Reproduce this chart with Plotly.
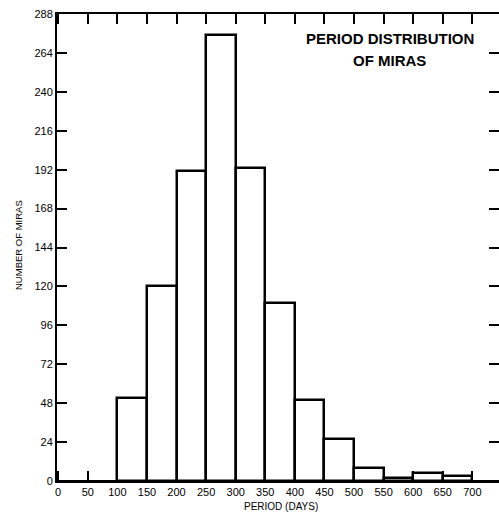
import plotly.graph_objects as go

bin_starts = [100, 150, 200, 250, 300, 350, 400, 450, 500, 550, 600, 650]
counts = [51, 120, 191, 275, 193, 110, 50, 26, 8, 2, 5, 3]
bin_width = 50
x_ticks = [0, 50, 100, 150, 200, 250, 300, 350, 400, 450, 500, 550, 600, 650, 700]
y_ticks = [0, 24, 48, 72, 96, 120, 144, 168, 192, 216, 240, 264, 288]

FONT = "Liberation Sans, Arial, sans-serif"

centers = [s + bin_width / 2 for s in bin_starts]

L, R, T, B = 57, 0, 14, 33
W, H = 499, 514
PW, PH = W - L - R, H - T - B


def px(x):
    return (x - L) / PW


def py(y):
    return (H - B - y) / PH


fig = go.Figure()
fig.add_trace(go.Bar(
    x=centers, y=counts, width=[bin_width] * len(counts),
    marker=dict(color="white", line=dict(color="black", width=2.5)),
    showlegend=False, hoverinfo="x+y",
))

fig.update_layout(
    template="none",
    width=W, height=H,
    margin=dict(l=L, r=R, t=T, b=B, autoexpand=False),
    paper_bgcolor="white", plot_bgcolor="white",
    font=dict(family=FONT, color="black", size=11),
    bargap=0,
    xaxis=dict(
        range=[-2, 745], tickvals=x_ticks, ticktext=[str(v) for v in x_ticks],
        ticks="inside", ticklen=10, tickwidth=1.5, tickcolor="black",
        showline=True, linecolor="black", linewidth=2, mirror="ticks",
        showgrid=False, zeroline=False, automargin=False,
        tickfont=dict(family=FONT, size=11, color="black"),
    ),
    yaxis=dict(
        range=[0, 288], tickvals=y_ticks, ticktext=[str(v) for v in y_ticks],
        ticks="inside", ticklen=10, tickwidth=1.5, tickcolor="black",
        showline=True, linecolor="black", linewidth=2, mirror="ticks",
        showgrid=False, zeroline=True, zerolinecolor="black", zerolinewidth=3,
        automargin=False,
        tickfont=dict(family=FONT, size=11, color="black"),
    ),
    annotations=[
        dict(text="<b>PERIOD DISTRIBUTION</b>", xref="paper", yref="paper",
             x=px(390), y=py(38), xanchor="center", yanchor="middle", showarrow=False,
             font=dict(family=FONT, size=15, color="black")),
        dict(text="<b>OF MIRAS</b>", xref="paper", yref="paper",
             x=px(389), y=py(61), xanchor="center", yanchor="middle", showarrow=False,
             font=dict(family=FONT, size=15, color="black")),
        dict(text="PERIOD (DAYS)", xref="paper", yref="paper",
             x=px(281), y=py(506), xanchor="center", yanchor="middle",
             showarrow=False, font=dict(family=FONT, size=10, color="black")),
        dict(text="NUMBER OF MIRAS", xref="paper", yref="paper",
             x=px(19), y=py(245), xanchor="center", yanchor="middle",
             textangle=-90, showarrow=False, font=dict(family=FONT, size=9.5, color="black")),
    ],
)

fig.write_html(
    "out.html",
    config={"displayModeBar": False},
    post_script="document.body.style.margin='0';document.body.style.overflow='hidden';",
)
